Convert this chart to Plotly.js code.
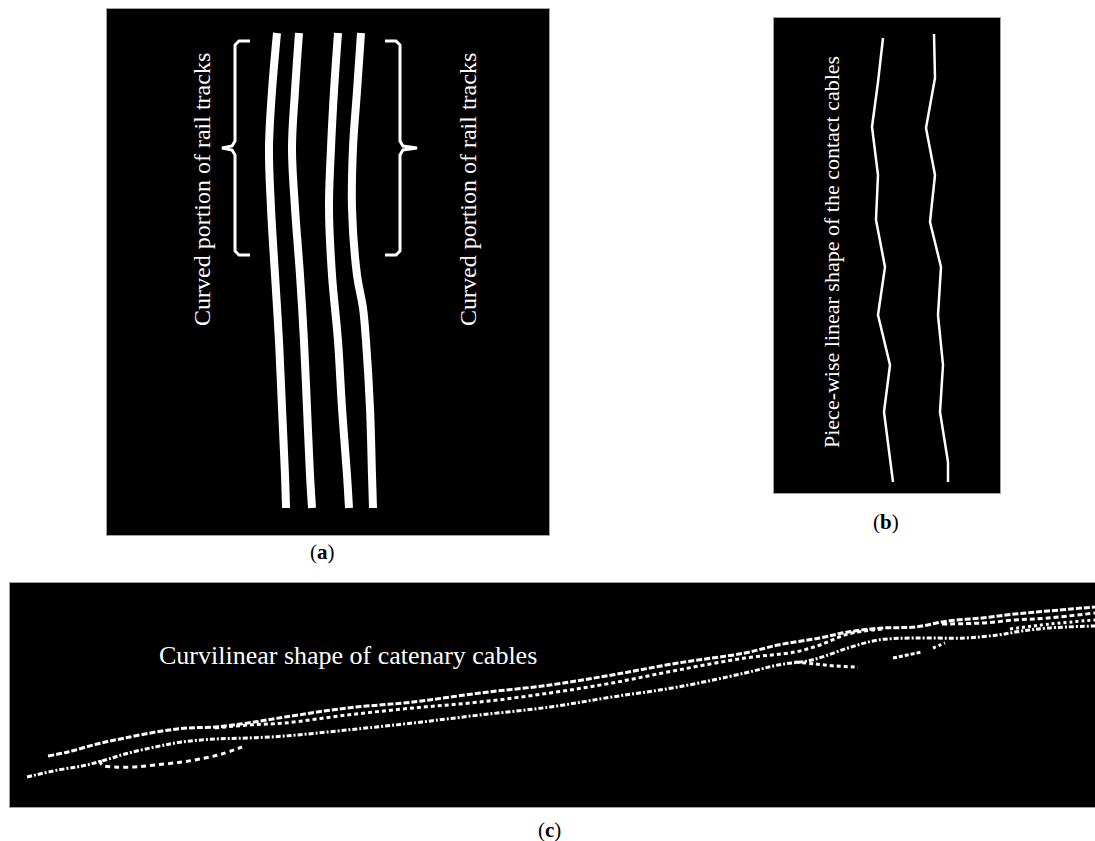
<!DOCTYPE html>
<html>
<head>
<meta charset="utf-8">
<script src="https://cdn.plot.ly/plotly-3.0.1.min.js"></script>
<style>html,body{margin:0;padding:0;background:#fff;}#chart{width:1095px;height:841px;}</style>
</head>
<body>
<div id="chart"></div>
<script>
// ---------- Panel (a): rail tracks (panel-local image coordinates) ----------
const railY = [24, 82, 139, 199, 266, 332, 399, 466, 499];
const rail1X = [170, 165, 162, 164, 168, 172, 175, 178, 179];
const rail2X = [192, 188, 185, 188, 193, 197, 200, 203, 205];
const rail3X = [231, 227, 224, 222, 225, 231, 235, 240, 242];
const rail4Y = [24, 82, 139, 199, 266, 299, 332, 399, 466, 499];
const rail4X = [254, 250, 246, 245, 250, 256, 259, 263, 265, 266];
const braceLeftX = [143, 132, 128, 128, 125, 115, 125, 128, 128, 132, 143];
const braceRightX = [278, 289, 293, 293, 296, 310, 296, 293, 293, 289, 278];
const braceY = [32, 32, 36, 132, 137, 139, 141, 146, 242, 246, 246];
const labelA = "Curved portion of rail tracks";

// ---------- Panel (b): contact cables ----------
const cableY = [20, 64, 109, 157, 202, 249, 297, 347, 394, 444, 464];
const cable1X = [109, 104, 98, 104, 102, 111, 104, 116, 110, 116, 119];
const cable2Y = [16, 60, 110, 157, 204, 249, 297, 347, 394, 444, 464];
const cable2X = [160, 161, 152, 161, 156, 167, 164, 169, 166, 174, 174];
const labelB = "Piece-wise linear shape of the contact cables";

// ---------- Panel (c): catenary cables ----------
const topX = [38, 58, 87, 115, 152, 178, 205, 238, 275, 337, 403, 470, 540, 602, 668, 735, 768, 810, 838, 872, 905, 938, 972, 1005, 1038, 1085];
const topY = [173, 169, 161, 155, 148, 145, 144, 140, 134, 125, 119, 110, 102, 92, 80, 70, 62, 55, 49, 45, 44, 38, 35, 31, 28, 24];
const midX = [205, 238, 275, 337, 403, 470, 540, 602, 668, 735, 785, 810, 838, 872];
const midY = [145, 142, 140, 132, 125, 119, 110, 100, 87, 75, 69, 62, 51, 46];
const lowX = [17, 48, 72, 92, 115, 145, 172, 205, 238, 275, 337, 403, 470, 540, 602, 668, 735, 768, 802, 838, 868, 905, 955, 988, 1012, 1038, 1085];
const lowY = [194, 187, 183, 178, 171, 164, 159, 156, 155, 153, 147, 140, 132, 124, 114, 104, 90, 82, 77, 65, 57, 55, 55, 52, 48, 45, 43];
const top2X = [932, 972, 1005, 1038, 1085];
const top2Y = [41, 40, 37, 35, 30];
const mid2X = [1000, 1040, 1085];
const mid2Y = [46, 41, 37];
const loopX = [90, 92, 105, 125, 145, 172, 195, 212, 232];
const loopY = [177, 182, 184, 184, 182, 179, 175, 171, 164];
const droop1X = [785, 805, 825, 848];
const droop1Y = [79, 81, 83, 84];
const droop2X = [883, 912];
const droop2Y = [75, 69];
const droop3X = [923, 935];
const droop3Y = [65, 60];
const labelC = "Curvilinear shape of catenary cables";

const panelLabels = ["(<b>a</b>)", "(<b>b</b>)", "(<b>c</b>)"];

// ---------- traces ----------
function ln(x, y, xa, ya, w, shape, dash) {
  return {x: x, y: y, xaxis: xa, yaxis: ya, type: 'scatter', mode: 'lines',
    line: {color: '#ffffff', width: w, shape: shape || 'linear', dash: dash || 'solid'},
    hoverinfo: 'skip', showlegend: false};
}
const traces = [
  ln(rail1X, railY, 'x', 'y', 8, 'spline'),
  ln(rail2X, railY, 'x', 'y', 8, 'spline'),
  ln(rail3X, railY, 'x', 'y', 8, 'spline'),
  ln(rail4X, rail4Y, 'x', 'y', 8, 'spline'),
  ln(braceLeftX, braceY, 'x', 'y', 3),
  ln(braceRightX, braceY, 'x', 'y', 3),
  ln(cable1X, cableY, 'x2', 'y2', 2.5),
  ln(cable2X, cable2Y, 'x2', 'y2', 2.5),
  ln(topX, topY, 'x3', 'y3', 3, 'spline', '6px,2px'),
  ln(midX, midY, 'x3', 'y3', 3, 'spline', '4px,3px'),
  ln(lowX, lowY, 'x3', 'y3', 3, 'spline', '5px,2px,2px,2px'),
  ln(top2X, top2Y, 'x3', 'y3', 3, 'spline', '5px,3px'),
  ln(mid2X, mid2Y, 'x3', 'y3', 3, 'spline', '3px,3px'),
  ln(loopX, loopY, 'x3', 'y3', 3, 'spline', '5px,4px'),
  ln(droop1X, droop1Y, 'x3', 'y3', 3, 'spline', '4px,3px'),
  ln(droop2X, droop2Y, 'x3', 'y3', 3, 'linear', '4px,2px'),
  ln(droop3X, droop3Y, 'x3', 'y3', 3, 'linear', '3px,3px')
];

// ---------- layout ----------
const W = 1095, H = 841;
function dx(a, b) { return [a / W, b / W]; }
function dy(top, bottom) { return [1 - bottom / H, 1 - top / H]; }
function ax(domain, range, anchor) {
  return {domain: domain, range: range, anchor: anchor, showgrid: false, zeroline: false,
    showticklabels: false, ticks: '', showline: true, mirror: true, linecolor: '#a0a0a0',
    linewidth: 1, fixedrange: true};
}
const serif = 'Liberation Serif, Times New Roman, serif';
function lab(txt, px, py) {
  return {xref: 'paper', yref: 'paper', x: px / W, y: 1 - py / H, xanchor: 'center', yanchor: 'middle',
    text: txt, showarrow: false, font: {family: serif, size: 21, color: '#000000'}};
}
const layout = {
  width: W, height: H,
  margin: {l: 0, r: 0, t: 0, b: 0},
  paper_bgcolor: '#ffffff', plot_bgcolor: '#000000',
  showlegend: false,
  xaxis: ax(dx(107, 549), [0, 442], 'y'),
  yaxis: ax(dy(9, 535), [526, 0], 'x'),
  xaxis2: ax(dx(774, 1000), [0, 226], 'y2'),
  yaxis2: ax(dy(18, 493), [475, 0], 'x2'),
  xaxis3: ax(dx(10, 1095), [0, 1085], 'y3'),
  yaxis3: ax(dy(583, 807), [224, 0], 'x3'),
  annotations: [
    {xref: 'x', yref: 'y', x: 95, y: 181, xanchor: 'center', yanchor: 'middle', text: labelA, textangle: -90, showarrow: false,
      font: {family: serif, size: 24, color: '#ffffff'}},
    {xref: 'x', yref: 'y', x: 361, y: 181, xanchor: 'center', yanchor: 'middle', text: labelA, textangle: -90, showarrow: false,
      font: {family: serif, size: 24, color: '#ffffff'}},
    {xref: 'x2', yref: 'y2', x: 58, y: 234, xanchor: 'center', yanchor: 'middle', text: labelB, textangle: -90, showarrow: false,
      font: {family: serif, size: 22, color: '#ffffff'}},
    {xref: 'x3', yref: 'y3', x: 338, y: 72, xanchor: 'center', yanchor: 'middle', text: labelC, showarrow: false,
      font: {family: serif, size: 26, color: '#ffffff'}},
    lab(panelLabels[0], 323, 552),
    lab(panelLabels[1], 886, 522),
    lab(panelLabels[2], 549, 830)
  ]
};
Plotly.newPlot('chart', traces, layout, {displayModeBar: false, staticPlot: true});
</script>
</body>
</html>
